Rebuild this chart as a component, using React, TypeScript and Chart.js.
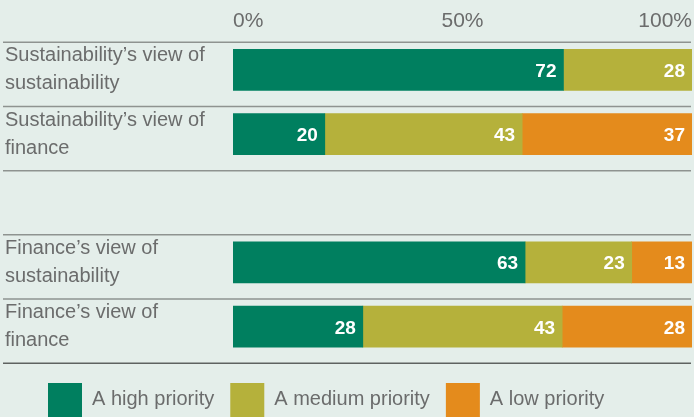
import React, { useEffect, useRef } from "react";
import { Chart, registerables } from "chart.js";

Chart.register(...registerables);

// ---- Data ----
const categories: string[][] = [
  ["Sustainability’s view of", "sustainability"],
  ["Sustainability’s view of", "finance"],
  [""],
  ["Finance’s view of", "sustainability"],
  ["Finance’s view of", "finance"],
];
const seriesNames = ["A high priority", "A medium priority", "A low priority"];
const highPriority: (number | null)[] = [72, 20, null, 63, 28];
const mediumPriority: (number | null)[] = [28, 43, null, 23, 43];
const lowPriority: (number | null)[] = [null, 37, null, 13, 28];
const xTickValues = [0, 50, 100];
const seriesColors = ["#007f5f", "#b5b13b", "#e48b1c"];

// ---- Styles ----
const BG = "#e4eeea";
const TEXT_GRAY = "#6b6c6c";
const FONT = "'Liberation Sans', Arial, Helvetica, sans-serif";

const series = [highPriority, mediumPriority, lowPriority];
const rowTotals = categories.map((_, i) =>
  series.reduce((s, arr) => s + (arr[i] ?? 0), 0)
);
// 100% stacked: each row is scaled to its own total
const toShare = (arr: (number | null)[]) =>
  arr.map((v, i) => (v == null || rowTotals[i] === 0 ? null : (v / rowTotals[i]) * 100));

const bgPlugin = {
  id: "bg",
  beforeDraw(chart: any) {
    const ctx = chart.ctx;
    ctx.save();
    ctx.fillStyle = BG;
    ctx.fillRect(0, 0, chart.width, chart.height);
    ctx.restore();
  },
};

const separatorPlugin = {
  id: "separators",
  beforeDatasetsDraw(chart: any) {
    const ctx = chart.ctx;
    const y = chart.scales.y;
    const n = categories.length;
    const step = (y.bottom - y.top) / n;
    ctx.save();
    for (let i = 0; i <= n; i++) {
      const py = y.getPixelForValue(Math.min(i, n - 1)) + (i === n ? step / 2 : -step / 2) + 4.5;
      ctx.beginPath();
      ctx.strokeStyle = i === n ? "#5e6260" : "#8e9390";
      ctx.lineWidth = 1.5;
      ctx.moveTo(3, py);
      ctx.lineTo(chart.width - 3, py);
      ctx.stroke();
    }
    ctx.restore();
  },
};

const valueLabelPlugin = {
  id: "valueLabels",
  afterDatasetsDraw(chart: any) {
    const ctx = chart.ctx;
    ctx.save();
    ctx.font = `bold 19px ${FONT}`;
    ctx.fillStyle = "#ffffff";
    ctx.textAlign = "right";
    ctx.textBaseline = "middle";
    chart.data.datasets.forEach((ds: any, di: number) => {
      const meta = chart.getDatasetMeta(di);
      meta.data.forEach((el: any, i: number) => {
        const raw = series[di][i];
        if (raw == null) return;
        ctx.fillText(String(raw), el.x - 7, el.y + 1.8);
      });
    });
    ctx.restore();
  },
};

const legendPlugin = {
  id: "customLegend",
  afterDraw(chart: any) {
    const ctx = chart.ctx;
    ctx.save();
    ctx.font = `20px ${FONT}`;
    ctx.textBaseline = "alphabetic";
    ctx.textAlign = "left";
    let x = 48;
    const boxTop = 383;
    chart.data.datasets.forEach((ds: any) => {
      ctx.fillStyle = ds.backgroundColor;
      ctx.fillRect(x, boxTop, 34, 34);
      x += 34 + 10;
      ctx.fillStyle = TEXT_GRAY;
      ctx.fillText(ds.label, x, 405);
      x += ctx.measureText(ds.label).width + 16;
    });
    ctx.restore();
  },
};

function BarChart() {
  const ref = useRef<HTMLCanvasElement | null>(null);

  useEffect(() => {
    document.body.style.margin = "0";
    document.body.style.background = BG;
    const canvas = ref.current!;
    const chart = new Chart(canvas, {
      type: "bar",
      data: {
        labels: categories,
        datasets: series.map((arr, i) => ({
          label: seriesNames[i],
          data: toShare(arr),
          backgroundColor: seriesColors[i],
          borderWidth: 0,
          barThickness: 41,
        })) as any,
      },
      options: {
        indexAxis: "y",
        responsive: false,
        animation: false,
        devicePixelRatio: 1,
        layout: { padding: { left: 5, right: 2, top: 0, bottom: 58.3 } },
        plugins: {
          legend: { display: false },
          tooltip: { enabled: false },
        },
        scales: {
          x: {
            type: "linear",
            position: "top",
            stacked: true,
            min: 0,
            max: 100,
            afterBuildTicks(scale: any) {
              scale.ticks = xTickValues.map((v) => ({ value: v }));
            },
            afterFit(scale: any) {
              scale.height = 37.8;
              scale.paddingLeft = 0;
              scale.paddingRight = 0;
            },
            ticks: {
              stepSize: 50,
              align: "inner",
              padding: 4,
              color: TEXT_GRAY,
              font: { family: FONT, size: 21 },
              callback: (v: any) => `${v}%`,
              maxRotation: 0,
            },
            grid: { display: false, drawTicks: false },
            border: { display: false },
          },
          y: {
            type: "category",
            stacked: true,
            afterFit(scale: any) {
              scale.width = 228;
            },
            ticks: {
              crossAlign: "far",
              padding: 0,
              color: TEXT_GRAY,
              font: { family: FONT, size: 20, lineHeight: 1.4 },
            },
            grid: { display: false, drawTicks: false },
            border: { display: false },
          },
        },
      } as any,
      plugins: [bgPlugin, separatorPlugin, valueLabelPlugin, legendPlugin],
    });
    return () => chart.destroy();
  }, []);

  return (
    <div style={{ width: 694, height: 417, overflow: "hidden" }}>
      <canvas ref={ref} width={694} height={417} style={{ display: "block" }} />
    </div>
  );
}

export default function App() {
  return <BarChart />;
}
